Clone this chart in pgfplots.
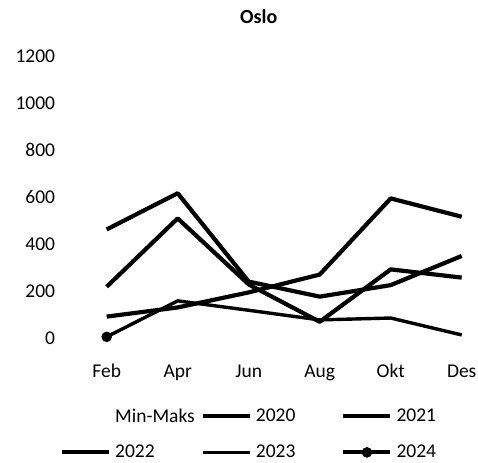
\documentclass[border=0pt]{standalone}
\usepackage{fontspec}
\setmainfont{Carlito}
\usepackage{pgfplots}
\pgfplotsset{compat=1.18}
\begin{document}
\begin{tikzpicture}
\path[use as bounding box] (0,0) rectangle (478bp,463bp);
\begin{axis}[
  at={(99.6bp,125bp)}, anchor=south west,
  scale only axis, width=369.2bp, height=282bp,
  xmin=-0.1, xmax=5.1, ymin=0, ymax=1200,
  enlargelimits=false,
  xtick={0,1,2,3,4,5},
  xticklabels={Feb,Apr,Jun,Aug,Okt,Des},
  ytick={0,200,400,600,800,1000,1200},
  axis line style={draw=none},
  major tick length=0pt,
  /pgf/number format/assume math mode=true,
  /pgf/number format/1000 sep={},
  font=\fontsize{19.5bp}{23bp}\selectfont,
  tick label style={font=\fontsize{19.5bp}{23bp}\selectfont},
  xticklabel style={anchor=base, yshift=-39.7bp},
  yticklabel style={anchor=east, xshift=-41bp},
  title={\textbf{Oslo}},
  title style={at={(rel axis cs:0.431,1)}, anchor=base, yshift=27bp, font=\fontsize{20bp}{23bp}\selectfont},
  legend columns=3,
  legend style={draw=none, fill=none, inner sep=0pt, outer sep=0pt,
    at={(rel axis cs:-0.1073,-0.251)}, anchor=north west,
    column sep=0pt, row sep=21.5bp,
    nodes={inner sep=0pt},
    font=\fontsize{19.5bp}{23bp}\selectfont},
  legend cell align=left,
  legend image code/.code={\draw[mark repeat=2,mark phase=2,#1] plot coordinates {(0bp,0bp) (23.5bp,0bp) (47bp,0bp)};},
  every axis plot/.append style={black, line join=round},
]
\addlegendimage{opacity=0}
\addlegendentry{\makebox[89.5bp][l]{\hspace{4bp}Min-Maks}}
\addplot[line width=4.2bp] coordinates {(0,462) (1,616) (2,240) (3,176) (4,225) (5,349)};
\addlegendentry{\makebox[89.5bp][l]{\hspace{4bp}2020}}
\addplot[line width=4.2bp] coordinates {(0,218) (1,509) (2,228) (3,69) (4,292) (5,257)};
\addlegendentry{\makebox[89.5bp][l]{\hspace{4bp}2021}}
\addplot[line width=4.2bp] coordinates {(0,91) (1,130) (2,194) (3,270) (4,594) (5,516)};
\addlegendentry{\makebox[89.5bp][l]{\hspace{4bp}2022}}
\addplot[line width=3.4bp] coordinates {(0,5) (1,158) (2,118) (3,77) (4,85) (5,13)};
\addlegendentry{\makebox[89.5bp][l]{\hspace{4bp}2023}}
\addplot[line width=4.2bp, mark=*, mark size=5bp, mark options={solid, fill=black, line width=0.5bp}] coordinates {(0,5)};
\addlegendentry{\makebox[89.5bp][l]{\hspace{4bp}2024}}
\end{axis}
\end{tikzpicture}
\end{document}
